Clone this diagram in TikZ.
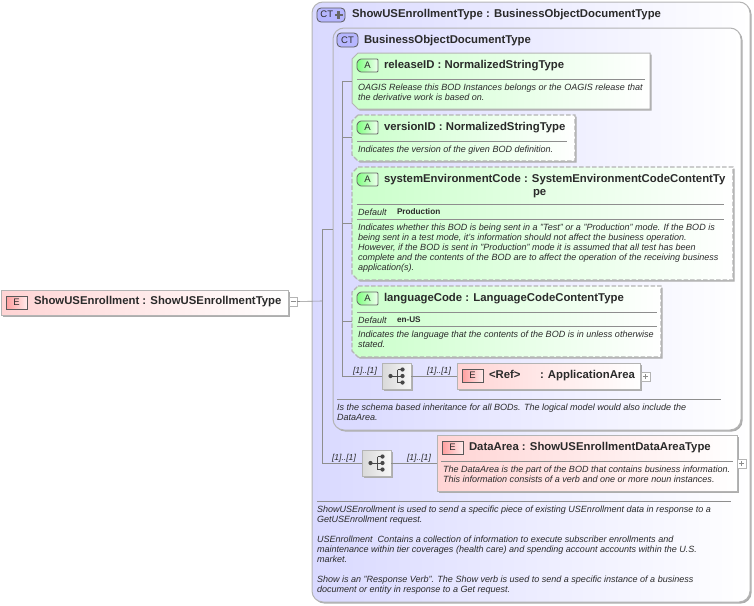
\documentclass[tikz,border=0pt]{standalone}
\usepackage{fontspec}
\setmainfont{Liberation Sans}
\usetikzlibrary{shadows}
\definecolor{edgegray}{HTML}{B4B4B4}
\definecolor{linegray}{HTML}{8E8E8E}
\definecolor{lav}{HTML}{D9D9FF}
\definecolor{grn}{HTML}{CAFFCA}
\definecolor{pnk}{HTML}{FFD4D4}
\definecolor{txtc}{HTML}{2A2A2A}
\tikzset{
  shad/.style={general shadow={shadow xshift=1.6pt,shadow yshift=-1.6pt,fill=black!32}},
  base/.style={inner sep=0pt,outer sep=0pt},
  ctbox/.style={base,draw=edgegray,line width=1pt,rounded corners=11pt,left color=lav,middle color=lav!55,right color=white,shad},
  elbox/.style={base,draw=edgegray,line width=1pt,left color=pnk,middle color=pnk!45,right color=white,shad},
  atbox/.style={draw=edgegray,line width=1pt,left color=grn,middle color=grn!40,right color=white,shad},
  dashbox/.style={atbox,line width=1.1pt,dash pattern=on 4.5pt off 2pt},
  anchorbox/.style={base},
  seqbox/.style={base,draw=edgegray,line width=.8pt,left color=black!15,right color=black!3,shad},
  exbox/.style={base,draw=edgegray,line width=.7pt,fill=white},
  exsign/.style={draw=black!45,line width=.7pt},
  conn/.style={draw=linegray,line width=.6pt},
  sep/.style={draw=linegray,line width=.7pt},
  badgeE/.style={base,draw=black!65,line width=.7pt,left color=red!38,right color=red!8,font=\fontsize{9.5}{10}\selectfont,text=txtc},
  badgeAshape/.style={draw=black!60,line width=.8pt,rounded corners=1pt,left color=green!50!white,right color=green!6},
  badgeAtext/.style={base,font=\fontsize{9.5}{10}\selectfont,text=txtc},
  badgeC/.style={base,draw=black!65,line width=.8pt,rounded corners=4pt,fill=lav!80!blue!90,font=\fontsize{9.5}{10}\selectfont,text=txtc},
  ttl/.style={base,anchor=base west,font=\fontsize{11.35}{12}\selectfont\bfseries,text=txtc},
  dsc/.style={base,anchor=north west,align=left,yshift=6.3pt,font=\fontsize{9.03}{10}\selectfont\itshape,text=txtc,execute at begin node=\rule{0pt}{7pt}},
  mult/.style={base,anchor=base west,font=\fontsize{8.6}{10}\selectfont\itshape,text=txtc},
  defk/.style={base,anchor=base west,font=\fontsize{9}{10}\selectfont\itshape,text=txtc},
  defv/.style={base,anchor=base west,font=\fontsize{8.2}{10}\selectfont\bfseries,text=txtc},
}
\newcommand{\bx}[6]{%
  \pgfmathsetmacro{\mycx}{(#2+#4)/2}\pgfmathsetmacro{\mycy}{(#3+#5)/2}%
  \pgfmathsetmacro{\myw}{#4-#2}\pgfmathsetmacro{\myh}{#5-#3}%
  \node[#6,minimum width=\myw pt,minimum height=\myh pt] (#1) at (\mycx,\mycy) {};}
\newcommand{\bxt}[7]{%
  \pgfmathsetmacro{\mycx}{(#2+#4)/2}\pgfmathsetmacro{\mycy}{(#3+#5)/2}%
  \pgfmathsetmacro{\myw}{#4-#2}\pgfmathsetmacro{\myh}{#5-#3}%
  \node[#6,minimum width=\myw pt,minimum height=\myh pt] (#1) at (\mycx,\mycy) {#7};}
% chamfered box: outline path plus a named invisible node over it
\newcommand{\chb}[6]{%
  \pgfmathsetmacro{\mya}{#2+6}\pgfmathsetmacro{\myb}{#3+6}\pgfmathsetmacro{\myc}{#5-6}%
  \path[#6] (\mya,#3) -- (#4,#3) -- (#4,#5) -- (\mya,#5) -- (#2,\myc) -- (#2,\myb) -- cycle;
  \bx{#1}{#2}{#3}{#4}{#5}{anchorbox}}
% A badge: chamfered on its left side
\newcommand{\abadge}[3]{%
  \pgfmathsetmacro{\mya}{#2+3}\pgfmathsetmacro{\myb}{#3+3}\pgfmathsetmacro{\myc}{#3+10}%
  \pgfmathsetmacro{\myd}{#3+13}\pgfmathsetmacro{\mye}{#2+21}%
  \path[badgeAshape] (\mya,#3) -- (\mye,#3) -- (\mye,\myd) -- (\mya,\myd) -- (#2,\myc) -- (#2,\myb) -- cycle;
  \bxt{#1}{#2}{#3}{\mye}{\myd}{badgeAtext}{A}}
\newcommand{\seqglyph}[1]{%
  \fill[black!72] ([xshift=-6pt]#1.center) circle (2.1pt);
  \fill[black!72] ([xshift=6pt,yshift=6.5pt]#1.center) circle (2.1pt);
  \fill[black!72] ([xshift=6pt]#1.center) circle (2.1pt);
  \fill[black!72] ([xshift=6pt,yshift=-6.5pt]#1.center) circle (2.1pt);
  \draw[black!72,line width=.9pt] ([xshift=-6pt]#1.center) -- ([xshift=6pt]#1.center)
    ([xshift=1pt,yshift=6.5pt]#1.center) -- ([xshift=1pt,yshift=-6.5pt]#1.center)
    ([xshift=1pt,yshift=6.5pt]#1.center) -- ([xshift=6pt,yshift=6.5pt]#1.center)
    ([xshift=1pt,yshift=-6.5pt]#1.center) -- ([xshift=6pt,yshift=-6.5pt]#1.center);}
\newcommand{\minussign}[1]{\draw[exsign] ([xshift=-2.5pt]#1.center) -- ([xshift=2.5pt]#1.center);}
\newcommand{\plussign}[1]{\draw[exsign] ([xshift=-2.5pt]#1.center) -- ([xshift=2.5pt]#1.center) ([yshift=-2.5pt]#1.center) -- ([yshift=2.5pt]#1.center);}
\begin{document}
\begin{tikzpicture}[x=1pt,y=-1pt]
\useasboundingbox (0,0) rectangle (754,605);
% containers
\bx{outer}{312}{2}{750}{602}{ctbox}
\bx{inner}{333}{28}{741}{430}{ctbox}
% trunks (behind boxes)
\coordinate (outerTop) at (322,229);
\coordinate (outerBot) at (322,463);
\coordinate (innerTop) at (342,81);
\coordinate (innerBot) at (342,376);
\coordinate (outerMid) at (322,301);
\coordinate (st2) at (342,137);
\coordinate (st3) at (342,223);
\coordinate (st4) at (342,321);
\draw[conn] (outerTop) -- (outerBot);
\draw[conn] (outerTop) -- (inner.west |- outerTop);
\draw[conn] (innerTop) -- (innerBot);
% root
\bx{root}{1}{290}{288}{315}{elbox}
\node[ttl] (rootT) at (34,304) {ShowUSEnrollment : ShowUSEnrollmentType};
\bxt{rootB}{6}{296}{27}{309}{badgeE}{E}
\bx{rootX}{289}{297}{297}{306}{exbox}
\minussign{rootX}
\draw[conn] (rootX.east) -- (outerMid);
% headers
\bxt{ctA}{317}{8}{345}{22}{badgeC}{CT\kern8.5pt\strut}
\fill[black!60] (334.5,13.7) rectangle (342.5,16.3);
\fill[black!60] (337.2,11) rectangle (339.8,19);
\node[ttl] (ctAT) at (352,17) {ShowUSEnrollmentType : BusinessObjectDocumentType};
\bxt{ctB}{337}{33}{358}{47}{badgeC}{CT}
\node[ttl] (ctBT) at (364,43) {BusinessObjectDocumentType};
% releaseID
\chb{relB}{352}{53}{650}{109}{atbox}
\draw[conn] (innerTop) -- (relB.west |- innerTop);
\abadge{relA}{357}{59}
\node[ttl] (relT) at (384,68) {releaseID : NormalizedStringType};
\coordinate (relS1) at (357,79); \coordinate (relS2) at (645,79);
\draw[sep] (relS1) -- (relS2);
\node[dsc] (relD) at (358,90) {OAGIS Release this BOD Instances belongs or the OAGIS release that\\the derivative work is based on.};
% versionID
\chb{verB}{352}{115}{575}{161}{dashbox}
\draw[conn] (st2) -- (verB.west |- st2);
\abadge{verA}{357}{121}
\node[ttl] (verT) at (384,130) {versionID : NormalizedStringType};
\coordinate (verS1) at (357,141); \coordinate (verS2) at (567,141);
\draw[sep] (verS1) -- (verS2);
\node[dsc] (verD) at (358,152) {Indicates the version of the given BOD definition.};
% systemEnvironmentCode
\chb{sysB}{352}{167}{733}{280}{dashbox}
\draw[conn] (st3) -- (sysB.west |- st3);
\abadge{sysA}{357}{173}
\node[ttl] (sysT) at (384,182) {systemEnvironmentCode : SystemEnvironmentCodeContentTy};
\node[ttl] (sysT2) at (533,195) {pe};
\coordinate (sysS1) at (357,204); \coordinate (sysS2) at (724,204);
\draw[sep] (sysS1) -- (sysS2);
\node[defk] (sysK) at (358,215) {Default};
\node[defv] (sysV) at (397,214) {Production};
\coordinate (sysS3) at (357,219); \coordinate (sysS4) at (724,219);
\draw[sep] (sysS3) -- (sysS4);
\node[dsc] (sysD) at (358,230) {Indicates whether this BOD is being sent in a "Test" or a "Production" mode. If the BOD is\\being sent in a test mode, it's information should not affect the business operation.\\However, if the BOD is sent in "Production" mode it is assumed that all test has been\\complete and the contents of the BOD are to affect the operation of the receiving business\\application(s).};
% languageCode
\chb{lanB}{352}{286}{661}{357}{dashbox}
\draw[conn] (st4) -- (lanB.west |- st4);
\abadge{lanA}{357}{292}
\node[ttl] (lanT) at (384,301) {languageCode : LanguageCodeContentType};
\coordinate (lanS1) at (357,312); \coordinate (lanS2) at (657,312);
\draw[sep] (lanS1) -- (lanS2);
\node[defk] (lanK) at (358,323) {Default};
\node[defv] (lanV) at (397,322) {en-US};
\coordinate (lanS3) at (357,326); \coordinate (lanS4) at (657,326);
\draw[sep] (lanS3) -- (lanS4);
\node[dsc] (lanD) at (358,337) {Indicates the language that the contents of the BOD is in unless otherwise\\stated.};
% sequence 1 + ApplicationArea
\bx{seqA}{382}{363}{411}{389}{seqbox}
\seqglyph{seqA}
\bx{refB}{457}{363}{640}{389}{elbox}
\draw[conn] (innerBot) -- (seqA.west |- innerBot);
\draw[conn] (seqA.east |- innerBot) -- (refB.west |- innerBot);
\node[mult] (m1) at (353,373) {[1]..[1]};
\node[mult] (m2) at (427,373) {[1]..[1]};
\bxt{refE}{462}{369}{483}{382}{badgeE}{E}
\node[ttl] (refT1) at (489,378) {<Ref>};
\node[ttl] (refT2) at (540,378) {: ApplicationArea};
\bx{refX}{641}{372}{650}{381}{exbox}
\plussign{refX}
% inner description
\coordinate (innS1) at (337,399); \coordinate (innS2) at (721,399);
\draw[sep] (innS1) -- (innS2);
\node[dsc] (innD) at (337,410) {Is the schema based inheritance for all BODs. The logical model would also include the\\DataArea.};
% sequence 2 + DataArea
\bx{seqB}{362}{450}{391}{476}{seqbox}
\seqglyph{seqB}
\bx{datB}{437}{435}{737}{491}{elbox}
\draw[conn] (outerBot) -- (seqB.west |- outerBot);
\draw[conn] (seqB.east |- outerBot) -- (datB.west |- outerBot);
\node[mult] (m3) at (332,460) {[1]..[1]};
\node[mult] (m4) at (407,460) {[1]..[1]};
\bxt{datE}{442}{441}{463}{454}{badgeE}{E}
\node[ttl] (datT) at (469,450) {DataArea : ShowUSEnrollmentDataAreaType};
\coordinate (datS1) at (441,461); \coordinate (datS2) at (733,461);
\draw[sep] (datS1) -- (datS2);
\node[dsc] (datD) at (443,472) {The DataArea is the part of the BOD that contains business information.\\This information consists of a verb and one or more noun instances.};
\bx{datX}{737}{459}{746}{468}{exbox}
\plussign{datX}
% outer description
\coordinate (outS1) at (317,501); \coordinate (outS2) at (731,501);
\draw[sep] (outS1) -- (outS2);
\node[dsc] (outD) at (317,512) {ShowUSEnrollment is used to send a specific piece of existing USEnrollment data in response to a\\GetUSEnrollment request.\\[10pt]USEnrollment\ \ Contains a collection of information to execute subscriber enrollments and\\maintenance within tier coverages (health care) and spending account accounts within the U.S.\\market.\\[10pt]Show is an "Response Verb". The Show verb is used to send a specific instance of a business\\document or entity in response to a Get request.};
\end{tikzpicture}
\end{document}
